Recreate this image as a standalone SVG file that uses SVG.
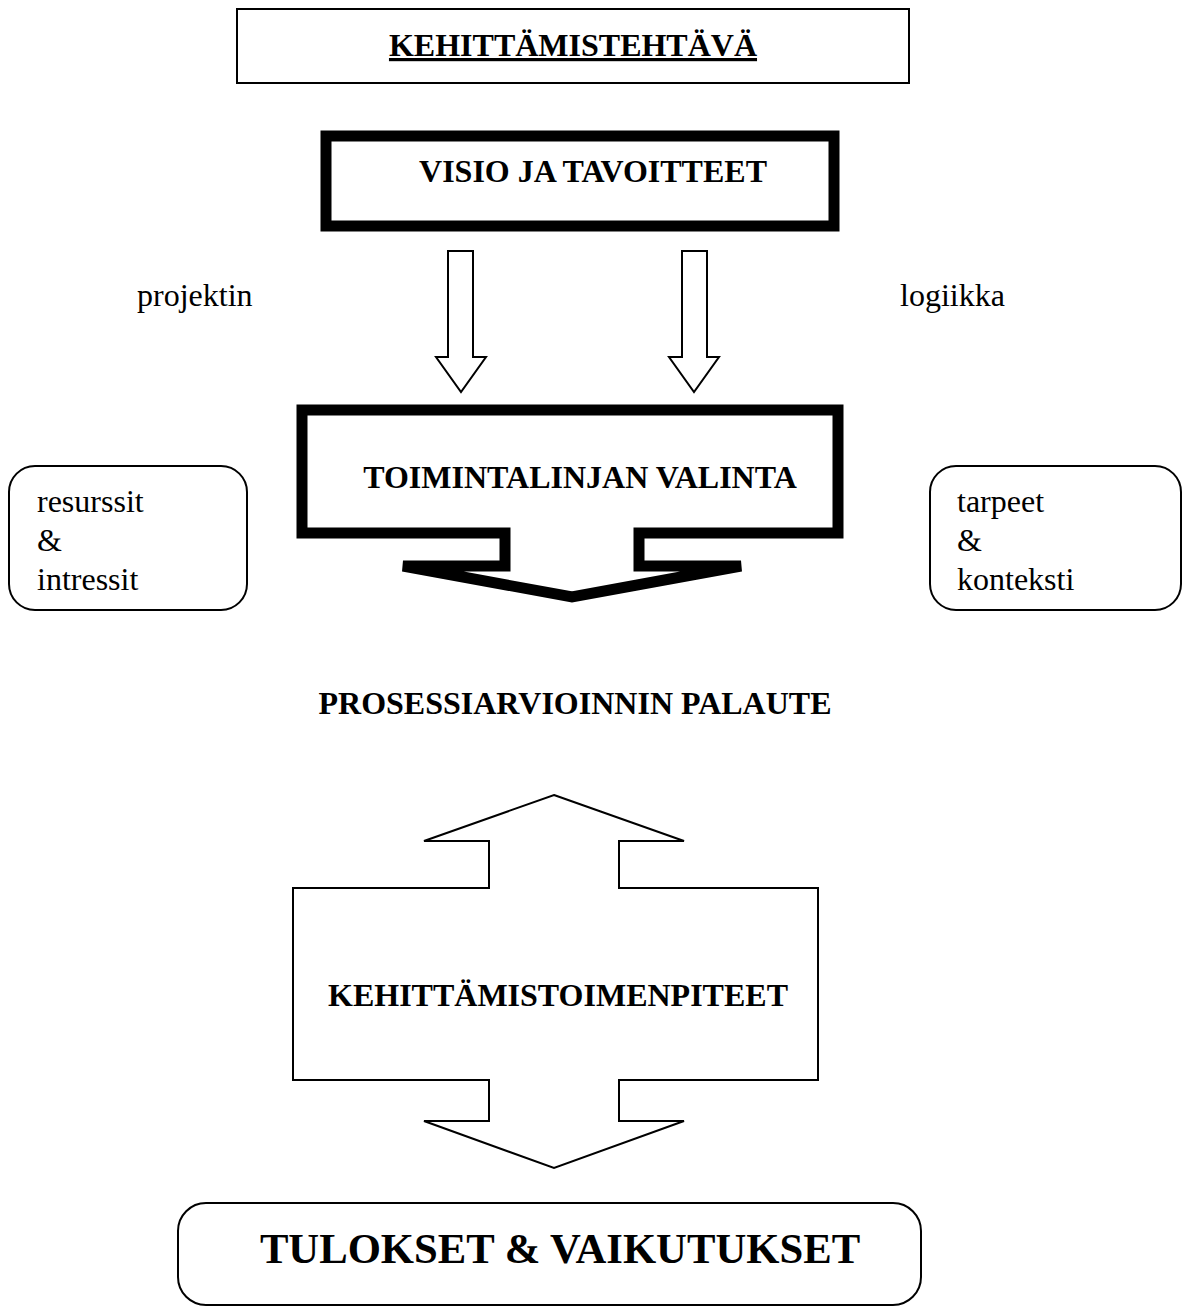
<svg xmlns="http://www.w3.org/2000/svg" width="1183" height="1307" viewBox="0 0 1183 1307">
<style>
.t{font-family:"Liberation Serif","Times New Roman",serif;fill:#000}
.b{font-weight:bold;font-size:32px}
.r{font-size:32px}
.thin{fill:#fff;stroke:#000;stroke-width:2}
.thick{fill:#fff;stroke:#000;stroke-width:11}
</style>
<rect width="1183" height="1307" fill="#fff"/>
<g id="kehittamistehtava">
<rect class="thin" x="237" y="9" width="672" height="74"/>
<text class="t b" x="573" y="56" text-anchor="middle" text-decoration="underline">KEHITTÄMISTEHTÄVÄ</text>
</g>
<g id="visio">
<rect class="thick" x="326" y="136" width="508" height="90"/>
<text class="t b" x="593" y="182" text-anchor="middle">VISIO JA TAVOITTEET</text>
</g>
<g id="connectors">
<polygon class="thin" points="448,251 473,251 473,357 486,357 461,392 436,357 448,357"/>
<polygon class="thin" points="682,251 707,251 707,357 719,357 694,392 669,357 682,357"/>
</g>
<g id="labels">
<text class="t r" x="137" y="306">projektin</text>
<text class="t r" x="900" y="306">logiikka</text>
</g>
<g id="toimintalinja">
<path class="thick" stroke-width="9" d="M302,410 H838 V533 H639 V566 H741 L572,597 L403,566 H505 V533 H302 Z"/>
<text class="t b" x="580" y="488" text-anchor="middle">TOIMINTALINJAN VALINTA</text>
</g>
<g id="resurssit">
<rect class="thin" x="9" y="466" width="238" height="144" rx="26"/>
<text class="t r" x="37" y="512">resurssit</text>
<text class="t r" x="37" y="551">&amp;</text>
<text class="t r" x="37" y="590">intressit</text>
</g>
<g id="tarpeet">
<rect class="thin" x="930" y="466" width="251" height="144" rx="26"/>
<text class="t r" x="957" y="512">tarpeet</text>
<text class="t r" x="957" y="551">&amp;</text>
<text class="t r" x="957" y="590">konteksti</text>
</g>
<g id="palaute">
<text class="t b" x="575" y="714" text-anchor="middle">PROSESSIARVIOINNIN PALAUTE</text>
</g>
<g id="kehittamistoimenpiteet">
<polygon class="thin" points="554,795 684,841 619,841 619,888 818,888 818,1080 619,1080 619,1121 684,1121 554,1168 424,1121 489,1121 489,1080 293,1080 293,888 489,888 489,841 424,841"/>
<text class="t b" x="558" y="1006" text-anchor="middle">KEHITTÄMISTOIMENPITEET</text>
</g>
<g id="tulokset">
<rect class="thin" x="178" y="1203" width="743" height="102" rx="28"/>
<text class="t" x="560" y="1263" text-anchor="middle" font-weight="bold" font-size="42.7">TULOKSET &amp; VAIKUTUKSET</text>
</g>
</svg>
